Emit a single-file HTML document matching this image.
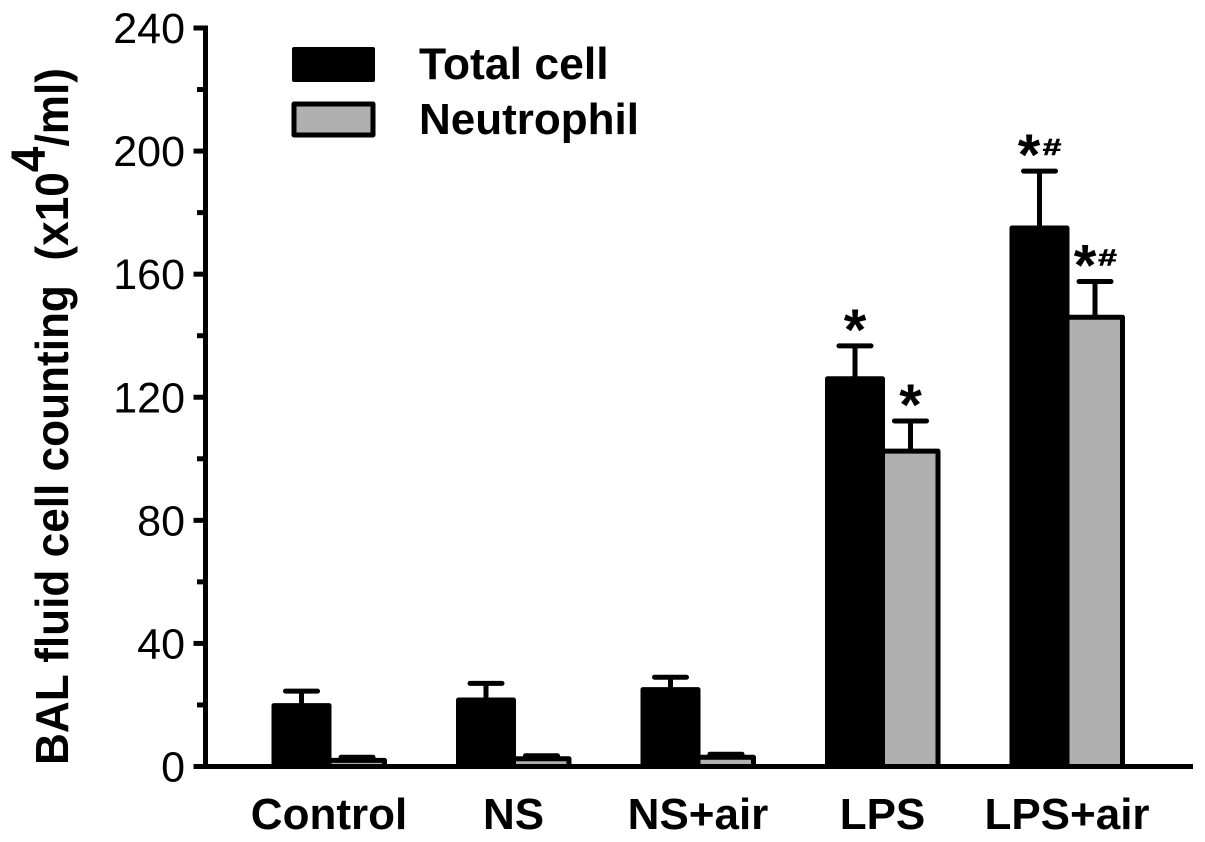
<!DOCTYPE html>
<html>
<head>
<meta charset="utf-8">
<style>
html,body{margin:0;padding:0;background:#fff;}
svg{display:block;}
text{font-family:"Liberation Sans",sans-serif;fill:#000;}
</style>
</head>
<body>
<svg id="chart" xmlns="http://www.w3.org/2000/svg" width="1205" height="842" viewBox="0 0 1205 842">
<rect width="1205" height="842" fill="#fff"/>
<g id="bars"></g>
<g id="axes"></g>
<text transform="translate(68,765) rotate(-90) scale(0.96,1)" font-size="46" font-weight="bold" xml:space="preserve">BAL fluid cell counting  (x10<tspan font-size="48" dy="-23">4</tspan><tspan dy="23">/ml)</tspan></text>
<rect x="292" y="47" width="83" height="35" rx="2" fill="#000"/>
<rect x="294" y="104" width="79" height="31" fill="#b0b0b0" stroke="#000" stroke-width="5" stroke-linejoin="round"/>
<text x="419" y="79" font-size="44.5" font-weight="bold">Total cell</text>
<text x="419" y="134" font-size="44" font-weight="bold">Neutrophil</text>
</svg>
<script>
const categories = ["Control", "NS", "NS+air", "LPS", "LPS+air"];
const totalCell = [19.8, 21.6, 25, 126, 175];
const totalCellErr = [4.7, 5.4, 4, 10.7, 18.5];
const neutrophil = [2, 2.5, 3, 102.5, 146];
const neutrophilErr = [1, 1, 1, 9.8, 11.6];
const totalMarks = ["", "", "", "*", "*"];
const neutrophilMarks = ["", "", "", "*", "*"];
const totalHash = ["", "", "", "", "#"];
const neutrophilHash = ["", "", "", "", "#"];
const yMajorTicks = [0, 40, 80, 120, 160, 200, 240];
const yMinorTicks = [20, 60, 100, 140, 180, 220];

const NS = "http://www.w3.org/2000/svg";
const barsG = document.getElementById("bars");
const axesG = document.getElementById("axes");
function y(v) { return 766.5 - v * (738.5 / 240); }
function groupX(i) { return 272 + i * 184.5; }
function make(tag, attrs, parent) {
  const el = document.createElementNS(NS, tag);
  for (const k in attrs) el.setAttribute(k, attrs[k]);
  parent.appendChild(el);
  return el;
}
function starAttrs(cx, capY) {
  return {x: cx, y: capY + 4, "font-size": 58, "font-weight": "bold", "text-anchor": "middle"};
}
function hashAttrs(cx, capY) {
  return {transform: "translate(" + cx + "," + (capY - 16) + ") scale(1.45,1)", "font-size": 23, "font-weight": "bold", "text-anchor": "middle", stroke: "#000", "stroke-width": 0.6};
}

categories.forEach(function (cat, i) {
  const x0 = groupX(i);
  const blackCx = x0 + 29.5;
  const grayCx = x0 + 85;
  const blackCapY = y(totalCell[i] + totalCellErr[i]);
  const grayCapY = y(neutrophil[i] + neutrophilErr[i]);

  // neutrophil error bar + bar
  const grayStem = make("line", {x1: grayCx, x2: grayCx, y1: y(neutrophil[i]), y2: grayCapY, stroke: "#000", "stroke-width": 5}, barsG);
  
  
  const grayCap = make("line", {x1: grayCx - 16, x2: grayCx + 16, y1: grayCapY, y2: grayCapY, stroke: "#000", "stroke-width": 5, "stroke-linecap": "round"}, barsG);
  
  
  const grayBar = make("rect", {x: x0 + 57, y: y(neutrophil[i]), width: 55.5, height: y(0) - y(neutrophil[i]), fill: "#b0b0b0", stroke: "#000", "stroke-width": 5, "stroke-linejoin": "round"}, barsG);
  
  

  // total cell error bar + bar
  const blackStem = make("line", {x1: blackCx, x2: blackCx, y1: y(totalCell[i]), y2: blackCapY, stroke: "#000", "stroke-width": 5}, barsG);
  
  
  const blackCap = make("line", {x1: blackCx - 16, x2: blackCx + 16, y1: blackCapY, y2: blackCapY, stroke: "#000", "stroke-width": 5, "stroke-linecap": "round"}, barsG);
  
  
  const blackBar = make("rect", {x: x0 + 2, y: y(totalCell[i]), width: 55, height: y(0) - y(totalCell[i]), fill: "#000", stroke: "#000", "stroke-width": 5, "stroke-linejoin": "round"}, barsG);
  
  

  // significance marks
  if (totalMarks[i]) {
    const s = make("text", starAttrs(blackCx + (totalHash[i] ? -10.5 : 0), blackCapY), barsG);
    s.textContent = totalMarks[i];
    
    
  }
  if (totalHash[i]) {
    const h = make("text", hashAttrs(blackCx + 12.5, blackCapY), barsG);
    h.textContent = totalHash[i];
    
    
  }
  if (neutrophilMarks[i]) {
    const s = make("text", starAttrs(grayCx + (neutrophilHash[i] ? -10 : 0), grayCapY), barsG);
    s.textContent = neutrophilMarks[i];
    
    
  }
  if (neutrophilHash[i]) {
    const h = make("text", hashAttrs(grayCx + 12.5, grayCapY), barsG);
    h.textContent = neutrophilHash[i];
    
    
  }

  // category label
  const label = make("text", {x: x0 + 57, y: 829, "font-size": 44, "font-weight": "bold", "text-anchor": "middle"}, axesG);
  label.textContent = cat;
  
  
});

const yLine = make("line", {x1: 205.5, x2: 205.5, y1: y(240) - 2.5, y2: y(0) + 2.5, stroke: "#000", "stroke-width": 5}, axesG);


const xLine = make("line", {x1: 193.5, x2: 1193, y1: y(0), y2: y(0), stroke: "#000", "stroke-width": 5}, axesG);



yMajorTicks.forEach(function (t) {
  const tick = make("line", {x1: 193.5, x2: 205, y1: y(t), y2: y(t), stroke: "#000", "stroke-width": 5}, axesG);
  
  
  const lab = make("text", {x: 185, y: y(t) + 15, "font-size": 43, "text-anchor": "end"}, axesG);
  lab.textContent = t;
  
  
});
yMinorTicks.forEach(function (t) {
  const tick = make("line", {x1: 197, x2: 205, y1: y(t), y2: y(t), stroke: "#000", "stroke-width": 5}, axesG);
  
  
});
</script>
</body>
</html>
